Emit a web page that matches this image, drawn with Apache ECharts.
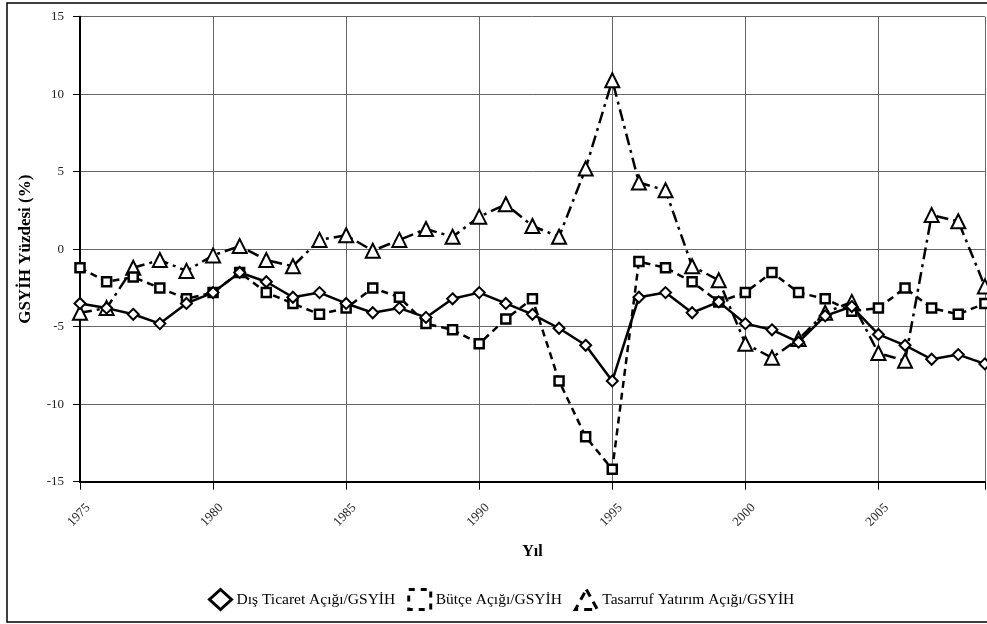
<!DOCTYPE html>
<html>
<head>
<meta charset="utf-8">
<script src="https://cdn.jsdelivr.net/npm/echarts@6/dist/echarts.min.js"></script>
<style>
html,body{margin:0;padding:0;background:#fff;}
#chart{width:987px;height:624px;}
</style>
</head>
<body>
<div id="chart"></div>
<script>
const years = [1975,1976,1977,1978,1979,1980,1981,1982,1983,1984,1985,1986,1987,1988,1989,1990,1991,1992,1993,1994,1995,1996,1997,1998,1999,2000,2001,2002,2003,2004,2005,2006,2007,2008,2009];
const disTicaret = [-3.5,-3.8,-4.2,-4.8,-3.5,-2.8,-1.5,-2.1,-3.1,-2.8,-3.5,-4.1,-3.8,-4.4,-3.2,-2.8,-3.5,-4.2,-5.1,-6.2,-8.5,-3.1,-2.8,-4.1,-3.4,-4.8,-5.2,-6.0,-4.3,-3.7,-5.5,-6.2,-7.1,-6.8,-7.4];
const butce = [-1.2,-2.1,-1.8,-2.5,-3.2,-2.8,-1.5,-2.8,-3.5,-4.2,-3.8,-2.5,-3.1,-4.8,-5.2,-6.1,-4.5,-3.2,-8.5,-12.1,-14.2,-0.8,-1.2,-2.1,-3.4,-2.8,-1.5,-2.8,-3.2,-4.0,-3.8,-2.5,-3.8,-4.2,-3.5];
const tasarruf = [-4.1,-3.8,-1.2,-0.7,-1.4,-0.4,0.2,-0.7,-1.1,0.6,0.9,-0.1,0.6,1.3,0.8,2.1,2.9,1.5,0.8,5.2,10.9,4.3,3.8,-1.1,-2.0,-6.1,-7.0,-5.8,-4.1,-3.4,-6.7,-7.2,2.2,1.8,-2.4];
const yTicks = [-15,-10,-5,0,5,10,15];
const xTickYears = [1975,1980,1985,1990,1995,2000,2005];
const seriesNames = ['Dış Ticaret Açığı/GSYİH','Bütçe Açığı/GSYİH','Tasarruf Yatırım Açığı/GSYİH'];

const pair = arr => years.map((y,i)=>[y,arr[i]]);
const font = '"Liberation Serif","Times New Roman",serif';

const chart = echarts.init(document.getElementById('chart'), null, {renderer:'canvas'});
chart.setOption({
  animation:false,
  backgroundColor:'#fff',
  textStyle:{fontFamily:font},
  graphic:[{type:'rect',shape:{x:7,y:3,width:1000,height:619},style:{fill:'none',stroke:'#000',lineWidth:1.5},silent:true,z:100}],
  grid:{left:80,right:0,top:16.7,bottom:142.3,containLabel:false},
  xAxis:{
    type:'value',min:xTickYears[0],max:2009,interval:5,
    name:'Yıl',nameLocation:'middle',nameGap:62,
    nameTextStyle:{fontFamily:font,fontSize:16,fontWeight:'bold',color:'#000'},
    axisLine:{onZero:false,lineStyle:{color:'#000',width:2}},
    axisTick:{show:true,length:8,lineStyle:{color:'#000',width:1}},
    axisLabel:{rotate:45,fontFamily:font,fontSize:13,color:'#222',margin:16,
      verticalAlign:'top',padding:[5,0,0,0],
      formatter:v=>xTickYears.includes(v)?String(v):''},
    splitLine:{show:true,lineStyle:{color:'#666',width:1}}
  },
  yAxis:{
    type:'value',min:yTicks[0],max:yTicks[yTicks.length-1],interval:5,
    name:'GSYİH Yüzdesi (%)',nameLocation:'middle',nameGap:46,
    nameTextStyle:{fontFamily:font,fontSize:17,fontWeight:'bold',color:'#000'},
    axisLine:{show:true,onZero:false,lineStyle:{color:'#000',width:2}},
    axisTick:{show:true,length:7,lineStyle:{color:'#000',width:1}},
    axisLabel:{fontFamily:font,fontSize:13,color:'#222',margin:16},
    splitLine:{show:true,lineStyle:{color:'#666',width:1}}
  },
  legend:{
    left:203,top:583,itemWidth:22,itemHeight:20,itemGap:12,
    textStyle:{fontFamily:font,fontSize:15.5,color:'#000'},
    data:[
      {name:seriesNames[0],icon:'diamond',itemStyle:{color:'#fff',borderColor:'#000',borderWidth:3}},
      {name:seriesNames[1],icon:'rect',itemStyle:{color:'#fff',borderColor:'#000',borderWidth:3,borderType:[6,6]}},
      {name:seriesNames[2],icon:'triangle',itemStyle:{color:'#fff',borderColor:'#000',borderWidth:3,borderType:[8,6]}}
    ]
  },
  series:[
    {name:seriesNames[2],type:'line',data:pair(tasarruf),symbol:'triangle',symbolSize:14,
      lineStyle:{color:'#000',width:2.5,type:[12,5,3,5]},
      itemStyle:{color:'#fff',borderColor:'#000',borderWidth:2},z:2},
    {name:seriesNames[1],type:'line',data:pair(butce),symbol:'rect',symbolSize:9,
      lineStyle:{color:'#000',width:2.5,type:[7,5]},
      itemStyle:{color:'#fff',borderColor:'#000',borderWidth:2.5},z:3},
    {name:seriesNames[0],type:'line',data:pair(disTicaret),symbol:'diamond',symbolSize:11,
      lineStyle:{color:'#000',width:2.5,type:'solid'},
      itemStyle:{color:'#fff',borderColor:'#000',borderWidth:2},z:4}
  ]
});
</script>
</body>
</html>
